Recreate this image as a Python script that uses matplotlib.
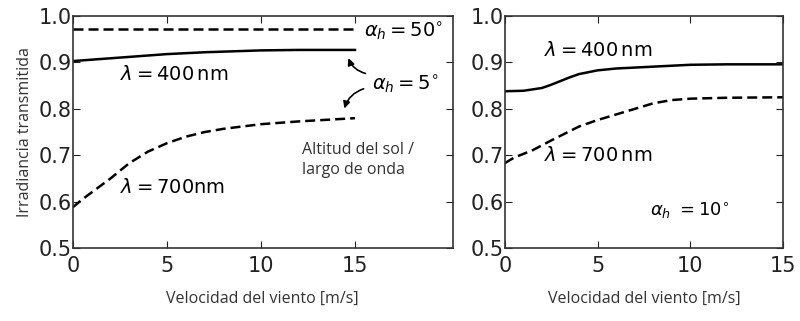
import matplotlib.pyplot as plt

# left panel (alpha_h = 50 deg and 5 deg)
x_l50 = [0, 15]
y_l50 = [0.973, 0.973]
x_l400 = [0, 1, 2, 3, 5, 7, 10, 12, 15]
y_l400 = [0.903, 0.906, 0.909, 0.912, 0.918, 0.922, 0.926, 0.927, 0.927]
x_l700 = [0, 0.5, 1, 1.5, 2, 3, 4, 5, 6, 7, 8, 10, 12, 15]
y_l700 = [0.588, 0.605, 0.62, 0.635, 0.65, 0.683, 0.708, 0.726, 0.740, 0.750, 0.757, 0.767, 0.773, 0.780]

# right panel (alpha_h = 10 deg)
x_r400 = [0, 1, 2, 2.5, 3, 3.5, 4, 5, 6, 8, 10, 12, 15]
y_r400 = [0.838, 0.839, 0.845, 0.852, 0.860, 0.868, 0.875, 0.883, 0.887, 0.891, 0.895, 0.896, 0.896]
x_r700 = [0, 0.5, 1.5, 2.5, 3.3, 4, 5, 6, 7, 8, 9, 10, 12, 15]
y_r700 = [0.683, 0.695, 0.711, 0.732, 0.748, 0.762, 0.776, 0.788, 0.800, 0.812, 0.819, 0.822, 0.824, 0.825]

xticks = [0, 5, 10, 15]
yticks = [0.5, 0.6, 0.7, 0.8, 0.9, 1.0]

plt.rcParams['font.family'] = 'DejaVu Sans'
fig = plt.figure(figsize=(8, 3.21), dpi=100)
ax1 = fig.add_axes([0.091, 0.227, 0.475, 0.723])
ax2 = fig.add_axes([0.631, 0.227, 0.348, 0.723])

dash = (0, (4, 2))
ax1.plot(x_l50, y_l50, color='black', lw=1.8, ls=dash)
ax1.plot(x_l400, y_l400, color='black', lw=1.8)
ax1.plot(x_l700, y_l700, color='black', lw=1.8, ls=dash)
ax2.plot(x_r400, y_r400, color='black', lw=1.8)
ax2.plot(x_r700, y_r700, color='black', lw=1.8, ls=dash)

ax1.set_xlim(0, 20.2)
ax2.set_xlim(0, 15)
for ax in (ax1, ax2):
    ax.set_ylim(0.5, 1.0)
    ax.set_xticks(xticks)
    ax.set_yticks(yticks)
    ax.set_yticklabels(['0.5', '0.6', '0.7', '0.8', '0.9', '1.0'])
    ax.tick_params(direction='in', top=True, right=True, labelsize=15,
                   length=5, width=0.8, colors='#222222')
    ax.tick_params(axis='x', pad=6)
    ax.tick_params(axis='y', pad=1)
    for s in ax.spines.values():
        s.set_linewidth(1.2)
        s.set_color('#333333')
    ax.set_xlabel('Velocidad del viento [m/s]', fontsize=11.5,
                  family='Open Sans', color='#333333', labelpad=10)

ax1.set_ylabel('Irradiancia transmitida', fontsize=11.5, family='Open Sans',
               color='#333333', labelpad=4)

# annotations left
ax1.text(2.5, 0.875, r'$\lambda = 400\,\mathrm{nm}$', fontsize=14, ha='left', va='center')
ax1.text(2.5, 0.63, r'$\lambda = 700\mathrm{nm}$', fontsize=14, ha='left', va='center')
ax1.text(15.5, 0.966, r'$\alpha_h = 50^{\circ}$', fontsize=14, ha='left', va='center')
ax1.text(15.9, 0.853, r'$\alpha_h = 5^{\circ}$', fontsize=14, ha='left', va='center')
ax1.text(12.2, 0.69, 'Altitud del sol /\nlargo de onda', fontsize=11.5,
         family='Open Sans', color='#333333', ha='left', va='center', linespacing=1.4)
ax1.annotate('', xy=(14.6, 0.915), xytext=(15.7, 0.875),
             arrowprops=dict(arrowstyle='-|>', color='black', lw=1.2,
                             connectionstyle='arc3,rad=-0.3'))
ax1.annotate('', xy=(14.4, 0.795), xytext=(15.6, 0.845),
             arrowprops=dict(arrowstyle='-|>', color='black', lw=1.2,
                             connectionstyle='arc3,rad=0.3'))

# annotations right
ax2.text(2.1, 0.925, r'$\lambda = 400\,\mathrm{nm}$', fontsize=14, ha='left', va='center')
ax2.text(2.1, 0.70, r'$\lambda = 700\,\mathrm{nm}$', fontsize=14, ha='left', va='center')
ax2.text(7.8, 0.58, r'$\alpha_h\ = 10^{\circ}$', fontsize=13, ha='left', va='center')

fig.savefig('out.png', dpi=100)
